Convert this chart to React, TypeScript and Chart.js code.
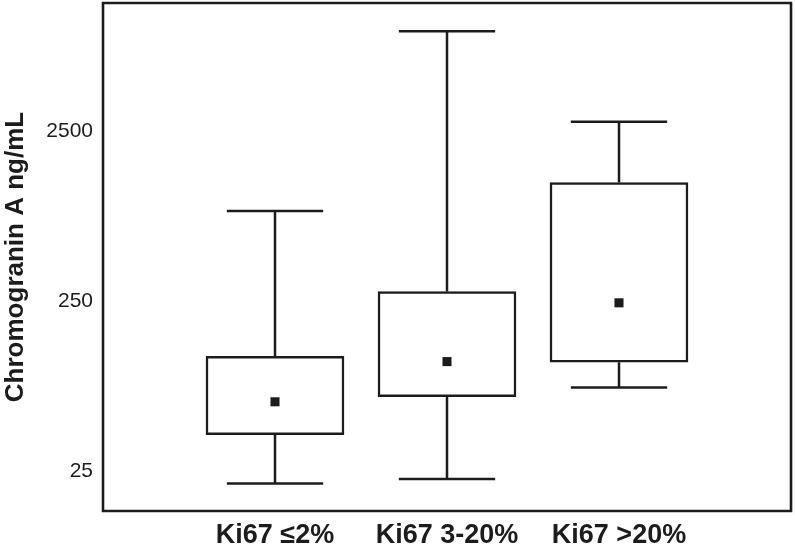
import React, { useEffect, useRef } from "react";
import { Chart, registerables } from "chart.js";

Chart.register(...registerables);

const categories = ["Ki67 \u22642%", "Ki67 3-20%", "Ki67 >20%"];
const positions = [1, 2, 3];
const whiskerLow = [21.1, 22.4, 77.5];
const q1 = [40.8, 68.3, 109];
const centers = [63.8, 110, 244];
const q3 = [118, 284, 1245];
const whiskerHigh = [847, 9680, 2837];
const yTicks = [25, 250, 2500];

const INK = "#1c1c1c";
const FONT = "'Liberation Sans', Arial, sans-serif";

const framePlugin = {
  id: "frame",
  afterDraw(chart: any) {
    const { ctx, chartArea } = chart;
    ctx.save();
    ctx.strokeStyle = INK;
    ctx.lineWidth = 2.6;
    ctx.beginPath();
    ctx.rect(chartArea.left, chartArea.top, chartArea.right - chartArea.left, chartArea.bottom - chartArea.top);
    ctx.stroke();
    ctx.restore();
  },
};

const whiskerPlugin = {
  id: "whiskers",
  beforeDatasetsDraw(chart: any) {
    const { ctx } = chart;
    const xs = chart.scales.x;
    const ys = chart.scales.y;
    const capHalf = (xs.getPixelForValue(1) - xs.getPixelForValue(0)) * 0.28;
    ctx.save();
    ctx.strokeStyle = INK;
    ctx.lineWidth = 2.5;
    positions.forEach((p, i) => {
      const x = xs.getPixelForValue(p);
      const yLo = ys.getPixelForValue(whiskerLow[i]);
      const yQ1 = ys.getPixelForValue(q1[i]);
      const yQ3 = ys.getPixelForValue(q3[i]);
      const yHi = ys.getPixelForValue(whiskerHigh[i]);
      ctx.beginPath();
      ctx.moveTo(x, yQ3);
      ctx.lineTo(x, yHi);
      ctx.moveTo(x - capHalf, yHi);
      ctx.lineTo(x + capHalf, yHi);
      ctx.moveTo(x, yQ1);
      ctx.lineTo(x, yLo);
      ctx.moveTo(x - capHalf, yLo);
      ctx.lineTo(x + capHalf, yLo);
      ctx.stroke();
    });
    ctx.restore();
  },
};

export default function App() {
  const ref = useRef<HTMLCanvasElement>(null);

  useEffect(() => {
    if (!ref.current) return;
    const chart = new Chart(ref.current, {
      type: "bar",
      data: {
        datasets: [
          {
            type: "bar",
            data: positions.map((p, i) => ({ x: p, y: [q1[i], q3[i]] })) as any,
            backgroundColor: "#ffffff",
            borderColor: INK,
            borderWidth: 2.5,
            borderSkipped: false,
            barThickness: 138,
            order: 2,
          } as any,
          {
            type: "scatter",
            data: positions.map((p, i) => ({ x: p, y: centers[i] })),
            pointStyle: "rect",
            pointRadius: 6.4,
            pointBorderWidth: 0,
            backgroundColor: INK,
            borderColor: INK,
            order: 1,
          } as any,
        ],
      },
      options: {
        animation: false,
        responsive: true,
        maintainAspectRatio: false,
        layout: { autoPadding: false, padding: { top: 3, right: 4, left: 0, bottom: 0 } },
        plugins: { legend: { display: false }, tooltip: { enabled: false } },
        scales: {
          x: {
            type: "linear",
            min: 0,
            max: 4,
            offset: false,
            grid: { display: false, drawTicks: false },
            border: { display: false },
            afterBuildTicks: (scale: any) => {
              scale.ticks = positions.map((v) => ({ value: v }));
            },
            afterFit: (scale: any) => {
              scale.height = 41;
              scale.paddingLeft = 0;
              scale.paddingRight = 0;
            },
            ticks: {
              padding: 8,
              color: INK,
              font: { family: FONT, size: 27, weight: "bold" },
              maxRotation: 0,
              autoSkip: false,
              callback: (v: any) => categories[positions.indexOf(Number(v))] ?? "",
            },
          },
          y: {
            type: "logarithmic",
            min: 14.52,
            max: 14200,
            grid: { display: false, drawTicks: false },
            border: { display: false },
            afterBuildTicks: (scale: any) => {
              scale.ticks = yTicks.map((v) => ({ value: v }));
            },
            afterFit: (scale: any) => {
              scale.width = 103;
              scale.paddingTop = 0;
              scale.paddingBottom = 0;
            },
            ticks: {
              padding: 10,
              color: INK,
              font: { family: FONT, size: 21 },
              callback: (v: any) => String(v),
            },
            title: {
              display: true,
              text: "Chromogranin A ng/mL",
              color: INK,
              font: { family: FONT, size: 26, weight: "bold" },
              padding: { top: 0, bottom: 0 },
            },
          },
        },
      },
      plugins: [whiskerPlugin, framePlugin],
    });
    return () => chart.destroy();
  }, []);

  return (
    <div style={{ position: "absolute", left: 0, top: 0, width: 795, height: 552, background: "#fff" }}>
      <canvas ref={ref} />
    </div>
  );
}
